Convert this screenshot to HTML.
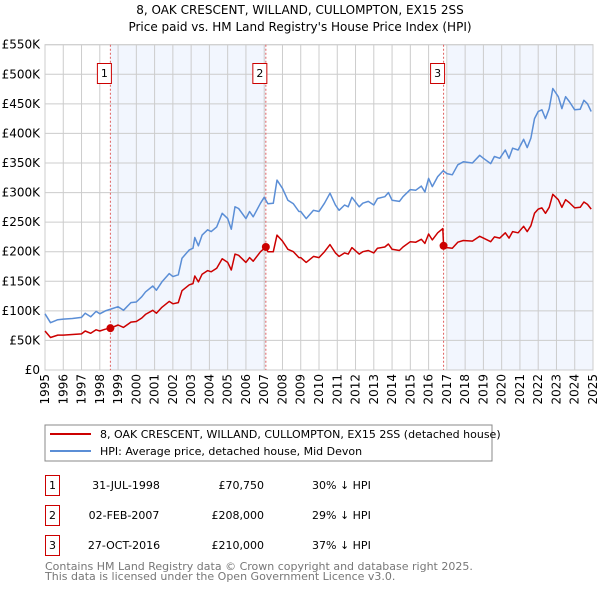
<!DOCTYPE html>
<html><head><meta charset="utf-8"><style>
body{margin:0;background:#fff;width:600px;height:590px;overflow:hidden;font-family:"DejaVu Sans","Liberation Sans",sans-serif}
svg text{font-family:"DejaVu Sans","Liberation Sans",sans-serif}
</style></head><body>
<svg id="chart" width="600" height="590" xmlns="http://www.w3.org/2000/svg">
<text x="300" y="14" text-anchor="middle" font-size="12">8, OAK CRESCENT, WILLAND, CULLOMPTON, EX15 2SS</text>
<text x="300" y="31" text-anchor="middle" font-size="12">Price paid vs. HM Land Registry's House Price Index (HPI)</text>
<g id="plot"></g>
<rect x="45" y="425" width="447" height="36" fill="#fff" stroke="#888"/>
<line x1="50" y1="434" x2="91" y2="434" stroke="#cc0000" stroke-width="2"/>
<text x="100" y="438" font-size="11">8, OAK CRESCENT, WILLAND, CULLOMPTON, EX15 2SS (detached house)</text>
<line x1="50" y1="451" x2="91" y2="451" stroke="#5b8ed6" stroke-width="2"/>
<text x="100" y="455" font-size="11">HPI: Average price, detached house, Mid Devon</text>
<g font-size="11">
<rect x="45.5" y="475.5" width="14" height="20" fill="#fff" stroke="#cc0000"/><text x="52.5" y="489" text-anchor="middle">1</text>
<text x="126" y="489" text-anchor="middle">31-JUL-1998</text><text x="264" y="489" text-anchor="end">£70,750</text><text x="312" y="489">30% ↓ HPI</text>
<rect x="45.5" y="505.5" width="14" height="20" fill="#fff" stroke="#cc0000"/><text x="52.5" y="519" text-anchor="middle">2</text>
<text x="124" y="519" text-anchor="middle">02-FEB-2007</text><text x="264" y="519" text-anchor="end">£208,000</text><text x="312" y="519">29% ↓ HPI</text>
<rect x="45.5" y="535.5" width="14" height="20" fill="#fff" stroke="#cc0000"/><text x="52.5" y="549" text-anchor="middle">3</text>
<text x="124" y="549" text-anchor="middle">27-OCT-2016</text><text x="264" y="549" text-anchor="end">£210,000</text><text x="312" y="549">37% ↓ HPI</text>
</g>
<text x="45" y="570" font-size="11" fill="#777">Contains HM Land Registry data © Crown copyright and database right 2025.</text>
<text x="45" y="580" font-size="11" fill="#777">This data is licensed under the Open Government Licence v3.0.</text>
</svg>
<script>
const yTicks=[0,50,100,150,200,250,300,350,400,450,500,550];
const yTickLabels=["£0","£50K","£100K","£150K","£200K","£250K","£300K","£350K","£400K","£450K","£500K","£550K"];
const xYears=[1995,1996,1997,1998,1999,2000,2001,2002,2003,2004,2005,2006,2007,2008,2009,2010,2011,2012,2013,2014,2015,2016,2017,2018,2019,2020,2021,2022,2023,2024,2025];
const hpiDates=[1995.0,1995.3,1995.7,1996.0,1996.5,1997.0,1997.2,1997.5,1997.8,1998.0,1998.3,1998.6,1999.0,1999.3,1999.7,2000.0,2000.3,2000.5,2000.9,2001.1,2001.4,2001.8,2002.0,2002.3,2002.5,2002.9,2003.1,2003.2,2003.4,2003.6,2003.9,2004.1,2004.4,2004.7,2005.0,2005.2,2005.4,2005.6,2006.0,2006.2,2006.4,2006.8,2007.0,2007.2,2007.5,2007.7,2008.0,2008.3,2008.6,2008.9,2009.0,2009.3,2009.7,2010.0,2010.3,2010.6,2010.9,2011.1,2011.4,2011.6,2011.8,2012.2,2012.4,2012.7,2013.0,2013.2,2013.6,2013.8,2014.0,2014.4,2014.6,2015.0,2015.3,2015.6,2015.8,2016.0,2016.2,2016.5,2016.8,2017.0,2017.3,2017.6,2017.9,2018.4,2018.8,2019.0,2019.4,2019.6,2019.9,2020.2,2020.4,2020.6,2020.9,2021.2,2021.4,2021.6,2021.8,2022.0,2022.2,2022.4,2022.6,2022.8,2023.1,2023.3,2023.5,2023.7,2024.0,2024.3,2024.5,2024.7,2024.9];
const hpiValues=[95,80,85,86,87,89,96,90,99,95,100,103,107,101,114,115,124,132,142,135,149,163,158,161,189,203,206,224,210,228,237,234,242,265,256,238,276,273,256,268,259,282,292,281,282,321,307,287,281,268,268,256,270,268,282,299,279,270,279,276,292,276,282,285,279,290,293,300,287,285,293,305,304,311,301,324,310,327,337,332,330,347,352,350,363,358,349,361,358,372,358,375,372,390,376,392,425,437,440,425,442,476,462,442,462,454,440,441,456,450,437];
const priceDates=[1995.0,1995.3,1995.7,1996.0,1996.5,1997.0,1997.2,1997.5,1997.8,1998.0,1998.3,1998.58,1999.0,1999.3,1999.7,2000.0,2000.3,2000.5,2000.9,2001.1,2001.4,2001.8,2002.0,2002.3,2002.5,2002.9,2003.1,2003.2,2003.4,2003.6,2003.9,2004.1,2004.4,2004.7,2005.0,2005.2,2005.4,2005.6,2006.0,2006.2,2006.4,2006.8,2007.09,2007.2,2007.5,2007.7,2008.0,2008.3,2008.6,2008.9,2009.0,2009.3,2009.7,2010.0,2010.3,2010.6,2010.9,2011.1,2011.4,2011.6,2011.8,2012.2,2012.4,2012.7,2013.0,2013.2,2013.6,2013.8,2014.0,2014.4,2014.6,2015.0,2015.3,2015.6,2015.8,2016.0,2016.2,2016.5,2016.78,2016.82,2017.0,2017.3,2017.6,2017.9,2018.4,2018.8,2019.0,2019.4,2019.6,2019.9,2020.2,2020.4,2020.6,2020.9,2021.2,2021.4,2021.6,2021.8,2022.0,2022.2,2022.4,2022.6,2022.8,2023.1,2023.3,2023.5,2023.7,2024.0,2024.3,2024.5,2024.7,2024.9];
const priceValues=[66,55,59,59,60,61,66,62,68,66,69,70.75,76,72,81,82,88,94,101,96,106,116,112,114,134,144,146,159,149,162,168,166,172,188,182,169,196,194,182,190,184,200,208,200,200,228,218,204,200,190,190,182,192,190,200,212,198,192,198,196,207,196,200,202,198,206,208,213,204,202,208,217,216,221,214,230,220,232,239,210,207,206,216,219,218,226,223,217,225,223,232,223,234,232,243,234,244,265,272,274,265,275,297,288,275,288,283,274,275,284,280,272];
const saleDates=[1998.58,2007.09,2016.82];
const saleValues=[70.75,208,210];
const saleLabels=["1","2","3"];
const shadeRanges=[[1998.58,2007.09],[2017.06,2025]];

const NS="http://www.w3.org/2000/svg";
const X0=45,X1=593,Y0=370,Y1=44.7;
const xs=y=>X0+(y-1995)/(2025-1995)*(X1-X0);
const ys=v=>Y0-v/550*(Y0-Y1);
const g=document.getElementById('plot');
function mk(t,a){const e=document.createElementNS(NS,t);for(const k in a)e.setAttribute(k,a[k]);g.appendChild(e);return e;}
shadeRanges.forEach(r=>{const e=mk('rect',{x:xs(r[0]),y:Y1,width:xs(r[1])-xs(r[0]),height:Y0-Y1,fill:'#eef3fd',opacity:0.75});

});
yTicks.forEach((v,i)=>{const l=mk('line',{x1:X0,x2:X1,y1:ys(v),y2:ys(v),stroke:'#ccc'});


const t=mk('text',{x:40,y:ys(v)+4,'text-anchor':'end','font-size':12});t.textContent=yTickLabels[i];

});
xYears.forEach(yr=>{const l=mk('line',{x1:xs(yr),x2:xs(yr),y1:Y1,y2:Y0,stroke:'#ccc'});


const t=mk('text',{x:0,y:0,'text-anchor':'end','font-size':12,transform:`translate(${xs(yr)+4},${Y0+4}) rotate(-90)`});t.textContent=yr;

});
mk('rect',{x:X0,y:Y1,width:X1-X0,height:Y0-Y1,fill:'none',stroke:'#ccc'});
saleDates.forEach((d,i)=>{const l=mk('line',{x1:xs(d),x2:xs(d),y1:Y1,y2:Y0,stroke:'#e06060','stroke-dasharray':'2,2'});


const b=mk('rect',{x:xs(d)-13,y:63.5,width:14,height:20,fill:'#fff',stroke:'#cc0000'});


const t=mk('text',{x:xs(d)-6,y:77,'text-anchor':'middle','font-size':11});t.textContent=saleLabels[i];

});
function path(ds,vs,col,name){const p=mk('path',{d:ds.map((d,i)=>(i?'L':'M')+xs(d).toFixed(1)+','+ys(vs[i]).toFixed(1)).join(''),fill:'none',stroke:col,'stroke-width':1.5,'stroke-linejoin':'round'});

}
path(hpiDates,hpiValues,'#5b8ed6','hpi-line');
path(priceDates,priceValues,'#cc0000','price-line');
saleDates.forEach((d,i)=>{const c=mk('circle',{cx:xs(d),cy:ys(saleValues[i]),r:4,fill:'#cc0000'});

});
</script>
</body></html>
